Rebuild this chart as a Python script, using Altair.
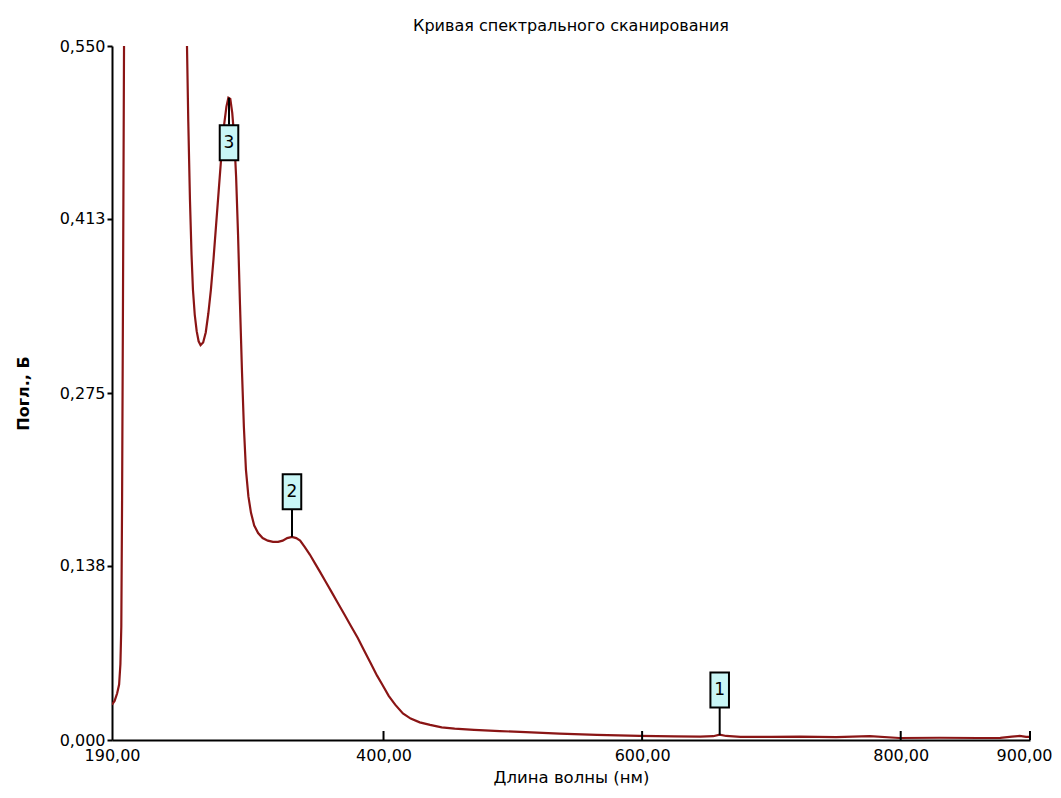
import altair as alt
import pandas as pd

# --- data ---
# segment 1: steep rise at the short-wavelength edge (goes off-scale)
seg1_wl = [190.0, 192.0, 194.0, 195.5, 196.5, 197.2, 197.8, 198.5, 199.3, 200.0]
seg1_abs = [0.028, 0.031, 0.037, 0.044, 0.060, 0.090, 0.190, 0.350, 0.550, 0.620]

# segment 2: comes back on-scale near 248 nm and runs to 900 nm
seg2_wl = [247.0, 248.0, 249.0, 250.3, 251.5, 252.6, 254.0, 255.5, 257.0, 258.5,
           260.5, 262.5, 264.5, 266.5, 268.5, 270.5, 272.5, 274.5, 276.5, 278.5,
           280.0, 281.5, 283.0, 284.5, 286.0, 287.5, 289.0, 290.5, 292.0, 293.6,
           295.5, 297.5, 300.0, 303.0, 306.5, 310.5, 314.5, 318.5, 322.0, 325.5,
           329.2, 332.5, 335.5, 339.0, 343.0, 347.0, 351.0, 355.5, 360.0, 365.0,
           370.0, 375.0, 380.0, 385.0, 390.0, 395.0, 399.0, 404.0, 409.0, 415.0,
           421.0, 428.0, 436.0, 445.0, 455.0, 470.0, 490.0, 510.0, 536.0, 565.0,
           598.0, 625.0, 645.0, 655.0, 660.0, 665.0, 676.0, 700.0, 722.0, 750.0,
           776.0, 799.0, 830.0, 860.0, 877.0, 886.0, 892.0, 897.0, 900.0]
seg2_abs = [0.620, 0.550, 0.490, 0.428, 0.385, 0.357, 0.337, 0.324, 0.316, 0.313,
            0.315, 0.323, 0.338, 0.357, 0.381, 0.408, 0.435, 0.462, 0.486, 0.502,
            0.509, 0.508, 0.497, 0.478, 0.446, 0.400, 0.345, 0.293, 0.248, 0.214,
            0.193, 0.180, 0.170, 0.164, 0.160, 0.158, 0.157, 0.157, 0.158, 0.160,
            0.161, 0.160, 0.158, 0.153, 0.147, 0.140, 0.133, 0.125, 0.117, 0.108,
            0.099, 0.090, 0.081, 0.071, 0.061, 0.051, 0.044, 0.035, 0.028, 0.021,
            0.017, 0.014, 0.012, 0.0100, 0.0090, 0.0080, 0.0071, 0.0062, 0.0050, 0.0040,
            0.0032, 0.0028, 0.0026, 0.0030, 0.0042, 0.0032, 0.0025, 0.0024, 0.0026, 0.0022,
            0.0030, 0.0016, 0.0018, 0.0016, 0.0017, 0.0026, 0.0032, 0.0025, 0.0024]

# peak markers (label, wavelength, absorbance)
peaks_above_label = ["1", "2"]
peaks_above_wl = [660.0, 329.2]
peaks_above_abs = [0.004, 0.161]
peaks_below_label = ["3"]
peaks_below_wl = [280.5]
peaks_below_abs = [0.509]

x_ticks = [190, 400, 600, 800, 900]
x_inner_ticks = [400, 600, 800, 900]
y_ticks = [0.0, 0.138, 0.275, 0.413, 0.55]

title_text = "Кривая спектрального сканирования"
x_title = "Длина волны (нм)"
y_title = "Погл., Б"

# --- build tables ---
curve = pd.concat([
    pd.DataFrame({"wl": seg1_wl, "a": seg1_abs, "seg": "s1"}),
    pd.DataFrame({"wl": seg2_wl, "a": seg2_abs, "seg": "s2"}),
], ignore_index=True)
above = pd.DataFrame({"label": peaks_above_label, "wl": peaks_above_wl, "a": peaks_above_abs})
below = pd.DataFrame({"label": peaks_below_label, "wl": peaks_below_wl, "a": peaks_below_abs})
ticks_df = pd.DataFrame({"wl": x_inner_ticks})

FONT = "DejaVu Sans"
LINE = "#8a1515"
BOX_FILL = "#c9f6f6"
BOX_SHAPE = "M-0.53,-1H0.53V1H-0.53Z"

xs = alt.Scale(domain=[190, 900], nice=False, zero=False)
ys = alt.Scale(domain=[0, 0.55], nice=False, zero=True)

x_axis = alt.Axis(values=x_ticks, labelExpr="replace(format(datum.value, '.2f'), '.', ',')",
                  title=x_title, grid=False, tickSize=0, labelPadding=7,
                  labelOffset=alt.condition("datum.value == 900", alt.value(-6), alt.value(0)),
                  domainColor="black", domainWidth=2, labelFont=FONT, labelFontSize=16,
                  labelColor="black", titleFont=FONT, titleFontSize=16.5, titleFontWeight="normal",
                  titleColor="black", titlePadding=6, labelFlush=False)
y_axis = alt.Axis(values=y_ticks, labelExpr="replace(format(datum.value, '.3f'), '.', ',')",
                  title=y_title, grid=False, tickSize=5, tickColor="black", tickWidth=2,
                  labelPadding=2, domainColor="black", domainWidth=2, labelFont=FONT,
                  labelFontSize=16, labelColor="black", titleFont=FONT, titleFontSize=16,
                  titleFontWeight="bold", titleColor="black", titlePadding=28)

line = alt.Chart(curve).mark_line(color=LINE, strokeWidth=2.2, clip=True).encode(
    x=alt.X("wl:Q", scale=xs, axis=x_axis),
    y=alt.Y("a:Q", scale=ys, axis=y_axis),
    detail="seg:N",
)

inner_ticks = alt.Chart(ticks_df).mark_rule(color="black", strokeWidth=2, y2Offset=-9).encode(
    x=alt.X("wl:Q", scale=xs),
    y=alt.datum(0),
    y2=alt.datum(0),
)

def markers(df, sign):
    base = alt.Chart(df)
    rule = base.mark_rule(color="black", strokeWidth=2, y2Offset=sign * 27).encode(
        x=alt.X("wl:Q", scale=xs), y=alt.Y("a:Q", scale=ys), y2="a:Q")
    box = base.mark_point(shape=BOX_SHAPE, size=1225, filled=True, fill=BOX_FILL,
                          stroke="black", strokeWidth=2, opacity=1, yOffset=sign * 45).encode(
        x=alt.X("wl:Q", scale=xs), y=alt.Y("a:Q", scale=ys))
    txt = base.mark_text(font=FONT, fontSize=17, color="black", yOffset=sign * 45).encode(
        x=alt.X("wl:Q", scale=xs), y=alt.Y("a:Q", scale=ys), text="label:N")
    return rule + box + txt

chart = alt.layer(line, inner_ticks, markers(above, -1), markers(below, 1)).properties(
    width=918, height=694,
    background="white",
    title=alt.Title(title_text, font=FONT, fontSize=16, fontWeight="normal", color="black",
                    anchor="middle", offset=4),
    autosize=alt.AutoSizeParams(type="none"),
    padding={"left": 104, "top": 38, "right": 23, "bottom": 48},
).configure_view(stroke="transparent", strokeWidth=0)

chart.save("out.html", embed_options={"renderer": "svg", "actions": False})
